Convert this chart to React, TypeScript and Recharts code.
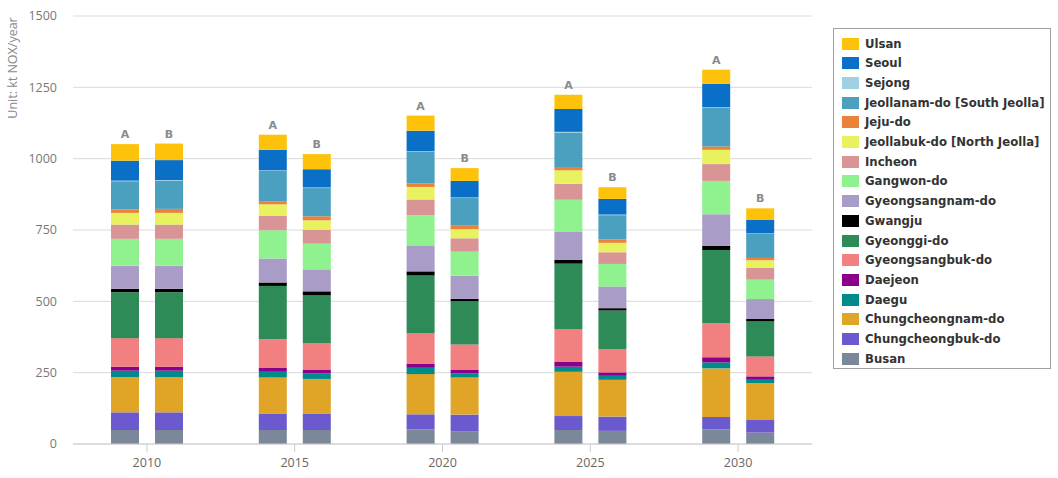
import React from 'react';
import { BarChart, Bar, XAxis, YAxis, CartesianGrid, LabelList } from 'recharts';

const years = ['2010', '2015', '2020', '2025', '2030'];
const yTicks = [0, 250, 500, 750, 1000, 1250, 1500];

// scenario A / scenario B, kt NOx per year, per year above
const busanA = [49, 49, 51, 49, 51];
const busanB = [49, 49, 45, 46, 40];
const chungbukA = [62, 58, 53, 49, 44];
const chungbukB = [62, 58, 58, 50, 44];
const chungnamA = [123, 126, 141, 155, 170];
const chungnamB = [123, 121, 130, 129, 129];
const daeguA = [23, 20, 22, 18, 21];
const daeguB = [23, 19, 14, 14, 12];
const daejeonA = [14, 15, 15, 18, 18];
const daejeonB = [14, 14, 14, 12, 12];
const gyeongbukA = [100, 99, 105, 114, 119];
const gyeongbukB = [100, 91, 88, 82, 70];
const gyeonggiA = [161, 187, 204, 229, 257];
const gyeonggiB = [161, 170, 152, 135, 123];
const gwangjuA = [12, 12, 14, 14, 14];
const gwangjuB = [12, 13, 8, 8, 8];
const gyeongnamA = [81, 84, 89, 99, 111];
const gyeongnamB = [81, 77, 81, 76, 70];
const gangwonA = [94, 99, 108, 111, 117];
const gangwonB = [94, 90, 84, 79, 68];
const incheonA = [50, 50, 55, 56, 59];
const incheonB = [50, 49, 47, 41, 41];
const jeonbukA = [41, 41, 44, 47, 50];
const jeonbukB = [41, 33, 32, 33, 27];
const jejuA = [12, 11, 12, 12, 12];
const jejuB = [14, 14, 12, 12, 8];
const jeonnamA = [99, 106, 111, 121, 135];
const jeonnamB = [99, 99, 97, 85, 84];
const sejongA = [2, 2, 2, 2, 2];
const sejongB = [2, 2, 2, 2, 2];
const seoulA = [70, 72, 72, 80, 82];
const seoulB = [70, 64, 58, 55, 47];
const ulsanA = [58, 53, 53, 50, 50];
const ulsanB = [58, 53, 45, 41, 41];

// bottom of the stack first
const series = [
  { key: 'busan', name: 'Busan', color: '#7a8899', a: busanA, b: busanB },
  { key: 'chungbuk', name: 'Chungcheongbuk-do', color: '#6a5acd', a: chungbukA, b: chungbukB },
  { key: 'chungnam', name: 'Chungcheongnam-do', color: '#e0a526', a: chungnamA, b: chungnamB },
  { key: 'daegu', name: 'Daegu', color: '#008b8b', a: daeguA, b: daeguB },
  { key: 'daejeon', name: 'Daejeon', color: '#8b008b', a: daejeonA, b: daejeonB },
  { key: 'gyeongbuk', name: 'Gyeongsangbuk-do', color: '#f28080', a: gyeongbukA, b: gyeongbukB },
  { key: 'gyeonggi', name: 'Gyeonggi-do', color: '#2e8b57', a: gyeonggiA, b: gyeonggiB },
  { key: 'gwangju', name: 'Gwangju', color: '#000000', a: gwangjuA, b: gwangjuB },
  { key: 'gyeongnam', name: 'Gyeongsangnam-do', color: '#a99cc6', a: gyeongnamA, b: gyeongnamB },
  { key: 'gangwon', name: 'Gangwon-do', color: '#8ff28f', a: gangwonA, b: gangwonB },
  { key: 'incheon', name: 'Incheon', color: '#d99595', a: incheonA, b: incheonB },
  { key: 'jeonbuk', name: 'Jeollabuk-do [North Jeolla]', color: '#e8f25f', a: jeonbukA, b: jeonbukB },
  { key: 'jeju', name: 'Jeju-do', color: '#ea8339', a: jejuA, b: jejuB },
  { key: 'jeonnam', name: 'Jeollanam-do [South Jeolla]', color: '#4b9fbf', a: jeonnamA, b: jeonnamB },
  { key: 'sejong', name: 'Sejong', color: '#9fd0e3', a: sejongA, b: sejongB },
  { key: 'seoul', name: 'Seoul', color: '#0a6fc6', a: seoulA, b: seoulB },
  { key: 'ulsan', name: 'Ulsan', color: '#ffc20a', a: ulsanA, b: ulsanB },
];

const data = years.map((year, i) => {
  const row: Record<string, string | number> = { year };
  series.forEach((s) => {
    row[`${s.key}_A`] = s.a[i];
    row[`${s.key}_B`] = s.b[i];
  });
  return row;
});

const scenarioLabel = (text: string) => (props: any) => {
  const { x, y, width } = props;
  return (
    <text
      x={x + width / 2}
      y={y - 6}
      textAnchor="middle"
      fill="#8a8a8a"
      fontSize={11}
      fontWeight="bold"
      fontFamily="'DejaVu Sans', sans-serif"
    >
      {text}
    </text>
  );
};

const font = "'Open Sans', sans-serif";

const App: React.FC = () => {
  const legendItems = [...series].reverse();
  return (
    <div style={{ position: 'absolute', left: 0, top: 0, width: 1058, height: 478, background: '#fff' }}>
      <BarChart
        width={1058}
        height={478}
        data={data}
        margin={{ top: 16, right: 246, left: 0, bottom: 4 }}
        barSize={28}
        barGap={16}
      >
        <CartesianGrid vertical={false} stroke="#dadada" />
        <XAxis
          dataKey="year"
          height={30}
          axisLine={{ stroke: '#cccccc' }}
          tickLine={{ stroke: '#cccccc' }}
          tickSize={8}
          tickMargin={6}
          tick={{ fill: '#666', fontSize: 12.5, fontFamily: font }}
        />
        <YAxis
          width={73}
          domain={[0, 1500]}
          ticks={yTicks}
          axisLine={false}
          tickLine={false}
          tickSize={0}
          tickMargin={16}
          tick={{ fill: '#777', fontSize: 12.5, fontFamily: font }}
        />
        {series.map((s) => [
          <Bar key={`${s.key}_A`} dataKey={`${s.key}_A`} stackId="A" fill={s.color} name={s.name} isAnimationActive={false}>
            {s.key === 'ulsan' && <LabelList content={scenarioLabel('A')} />}
          </Bar>,
          <Bar key={`${s.key}_B`} dataKey={`${s.key}_B`} stackId="B" fill={s.color} name={s.name} isAnimationActive={false}>
            {s.key === 'ulsan' && <LabelList content={scenarioLabel('B')} />}
          </Bar>,
        ])}
      </BarChart>

      <div
        style={{
          position: 'absolute',
          left: 12,
          top: 68,
          transform: 'translate(-50%, -50%) rotate(-90deg)',
          whiteSpace: 'nowrap',
          fontFamily: font,
          fontSize: 12.5,
          color: '#888',
        }}
      >
        Unit: kt NOX/year
      </div>

      <div
        style={{
          position: 'absolute',
          left: 833,
          top: 28,
          width: 218,
          height: 341,
          border: '1px solid #a0a0a0',
          boxSizing: 'border-box',
          fontFamily: "'DejaVu Sans', sans-serif",
        }}
      >
        {legendItems.map((s, i) => (
          <div
            key={s.key}
            style={{ position: 'absolute', left: 8, top: 8 + i * 19.7, height: 13, display: 'flex', alignItems: 'center' }}
          >
            <span style={{ display: 'inline-block', width: 17, height: 12, background: s.color, marginRight: 6 }} />
            <span style={{ fontSize: 11.7, fontWeight: 'bold', color: '#333', whiteSpace: 'nowrap' }}>{s.name}</span>
          </div>
        ))}
      </div>
    </div>
  );
};

export default App;
